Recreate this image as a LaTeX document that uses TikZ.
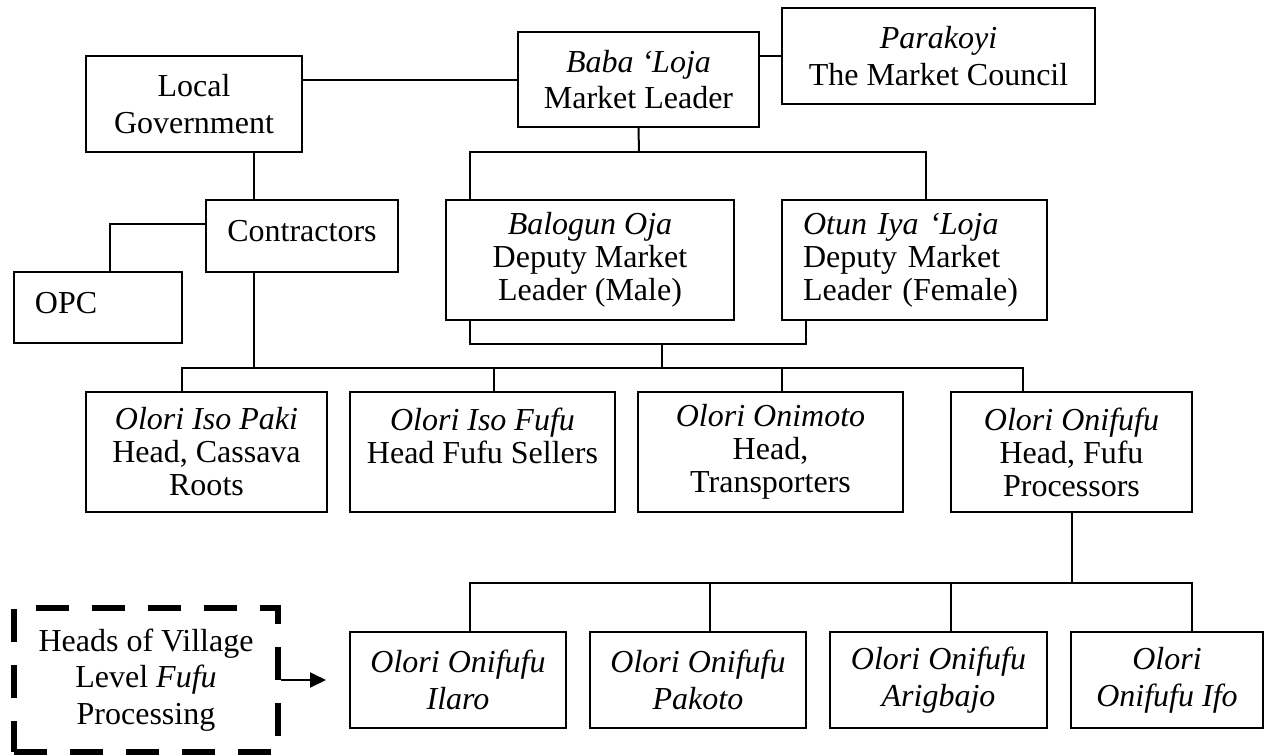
\documentclass[tikz,border=0pt]{standalone}
\usepackage{fontspec}
\setmainfont{Liberation Serif}
\usepackage{tikz}
\usetikzlibrary{calc}
\usetikzlibrary{arrows.meta}

\begin{document}
\begin{tikzpicture}[x=0.4pt, y=-0.4pt, line width=0.8pt,
        every node/.style={font=\fontsize{12.8}{14.7}\selectfont},
        box/.style={draw, rectangle, line width=0.8pt, align=center, inner sep=0pt},
        tall/.style={font=\fontsize{12.8}{13.2}\selectfont},
        ital/.style={font=\fontsize{12.8}{14.7}\selectfont\itshape},
        dashbox/.style={draw, rectangle, line width=2.4pt, dash pattern=on 13.2pt off 9.2pt,
          align=center, inner sep=0pt}]

        \useasboundingbox (0,0) rectangle (1269,755);

        \node[box, minimum width=86.4pt, minimum height=38.4pt] (lg) at (194,104) {Local\\Government};
        \node[box, minimum width=96.4pt, minimum height=38pt] (baba) at (638.5,79.5) {\textit{Baba ‘Loja}\\Market Leader};
        \node[box, minimum width=125.2pt, minimum height=38.4pt] (parakoyi) at (938.5,56) {\textit{Parakoyi}\\The Market Council};

        \node[box, minimum width=76.8pt, minimum height=28.8pt, text depth=4pt] (contractors) at (302,236) {Contractors};
        \node[box, minimum height=28.4pt, text width=50.4pt, inner xsep=8.4pt, align=left, text depth=4pt] (opc) at (98,307.5) {OPC};

        \node[box, tall, minimum width=115.2pt, minimum height=48pt] (balogun) at (590,260) {\textit{Balogun Oja}\\Deputy Market\\Leader (Male)};
        \node[box, tall, minimum height=48pt, text width=89.2pt, inner xsep=8.4pt, align=left] (otun) at (914.5,260) {\textit{Otun Iya ‘Loja}\\Deputy Market\\Leader (Female)};

        \node[box, tall, minimum width=96.4pt, minimum height=48pt] (isopaki) at (206.5,452) {\textit{Olori Iso Paki}\\Head, Cassava\\Roots};
        \node[box, tall, minimum width=106pt, minimum height=48pt] (isofufu) at (482.5,452) {\textit{Olori Iso Fufu}\\Head Fufu Sellers\\~};
        \node[box, tall, minimum width=106pt, minimum height=48pt] (onimoto) at (770.5,452) {\textit{Olori Onimoto}\\Head,\\Transporters};
        \node[box, tall, minimum width=96.4pt, minimum height=48pt] (onifufu) at (1071.5,452) {\textit{Olori Onifufu}\\Head, Fufu\\Processors};

        \node[box, ital, minimum width=86.4pt, minimum height=38.4pt] (ilaro) at (458,680) {Olori Onifufu\\Ilaro};
        \node[box, ital, minimum width=86.4pt, minimum height=38.4pt] (pakoto) at (698,680) {Olori Onifufu\\Pakoto};
        \node[box, ital, minimum width=86.8pt, minimum height=38.4pt] (arigbajo) at (938.5,680) {Olori Onifufu\\Arigbajo};
        \node[box, ital, minimum width=76.8pt, minimum height=38.4pt] (ifo) at (1167,680) {Olori\\Onifufu Ifo};

        \node[dashbox, minimum width=105.4pt, minimum height=57.6pt] (village) at (146,680) {Heads of Village\\Level \textit{Fufu}\\Processing};

        \coordinate (split) at (639,152);
        \coordinate (join) at (662,344);
        \coordinate (bus) at (662,368);
        \coordinate (bus4) at (1071.5,583);
        \coordinate (tip) at (326,680);

        \draw (baba.west) -- (baba.west -| lg.east);
        \draw (parakoyi.west) -- (parakoyi.west -| baba.east);
        \draw ([xshift=-19.2pt]contractors.north) -- ([xshift=-19.2pt]contractors.north |- lg.south);
        \draw ([yshift=4.8pt]contractors.west) -| ([xshift=4.8pt]opc.north);

        \draw (baba.south) -- (split);
        \draw ([xshift=-48pt]balogun.north) |- (split) -| ([xshift=4.6pt]otun.north);
        \draw ([xshift=-48pt]balogun.south) |- (join) -| ([xshift=-43.4pt]otun.south);
        \draw (join) -- (bus);

        \draw ([xshift=-19.2pt]contractors.south) -- ([xshift=-19.2pt]contractors.south |- bus);
        \draw ([xshift=-9.8pt]isopaki.north) |- (bus) -| ([xshift=-19.4pt]onifufu.north);
        \draw ([xshift=4.6pt]isofufu.north) -- ([xshift=4.6pt]isofufu.north |- bus);
        \draw ([xshift=4.6pt]onimoto.north) -- ([xshift=4.6pt]onimoto.north |- bus);

        \draw (onifufu.south) -- (bus4);
        \draw ([xshift=4.8pt]ilaro.north) |- (bus4) -| ([xshift=10pt]ifo.north);
        \draw ([xshift=4.8pt]pakoto.north) -- ([xshift=4.8pt]pakoto.north |- bus4);
        \draw ([xshift=5pt]arigbajo.north) -- ([xshift=5pt]arigbajo.north |- bus4);

        \draw[-{Triangle[length=6.4pt,width=6pt]}] (village.east) -- (tip);

      \end{tikzpicture}
\end{document}
